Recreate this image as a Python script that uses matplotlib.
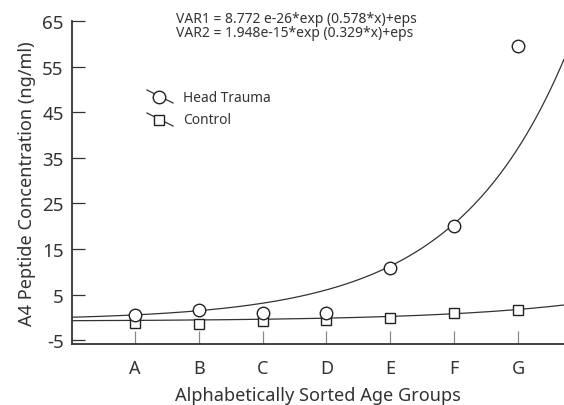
import numpy as np
import matplotlib
matplotlib.use("Agg")
import matplotlib.pyplot as plt

# data
groups = ["A", "B", "C", "D", "E", "F", "G"]
head_trauma = [0.5, 1.6, 0.9, 0.9, 10.8, 20.0, 59.6]
control = [-1.2, -1.4, -0.7, -0.5, 0.0, 0.9, 1.7]

# fitted exponential curves: y = amp * exp(rate * x) + offset
head_fit = (0.66, 0.578, -0.6)
control_fit = (0.11, 0.45, -0.8)

equations = [
    "VAR1 = 8.772 e-26*exp (0.578*x)+eps",
    "VAR2 = 1.948e-15*exp (0.329*x)+eps",
]

y_ticks = [-5, 5, 15, 25, 35, 45, 55, 65]

FONT = "Noto Sans"
TEXT_COLOR = "#333333"
LINE_COLOR = "#333333"

plt.rcParams["font.family"] = [FONT, "DejaVu Sans"]
plt.rcParams["axes.unicode_minus"] = False

W, H = 564, 406
fig = plt.figure(figsize=(W / 100, H / 100), dpi=100)
ax = fig.add_axes([72 / W, 1 - 345 / H, 492 / W, 323 / H])

x = np.arange(1, len(groups) + 1)
ax.set_xlim(0.016, 7.72)
ax.set_ylim(-5.8, 65)

xs = np.linspace(0.016, 7.72, 300)
for amp, rate, offset in (head_fit, control_fit):
    ax.plot(xs, amp * np.exp(rate * xs) + offset, color=LINE_COLOR, lw=0.9, zorder=2)

ax.plot(x, control, ls="none", marker="s", ms=6.8, mfc="white", mec="#222222",
        mew=1.0, zorder=3, clip_on=False)
ax.plot(x, head_trauma, ls="none", marker="o", ms=9, mfc="white", mec="#222222",
        mew=1.0, zorder=4, clip_on=False)

for side in ("top", "right"):
    ax.spines[side].set_visible(False)
for side in ("left", "bottom"):
    ax.spines[side].set_color("#333333")
    ax.spines[side].set_linewidth(1.3)

ax.set_xticks(x)
ax.set_xticklabels(groups)
ax.set_yticks(y_ticks)
ax.tick_params(axis="x", direction="in", length=9.5, width=0.9, color="#888888",
               pad=11, labelsize=13, labelcolor=TEXT_COLOR)
ax.tick_params(axis="y", direction="in", length=9.5, width=0.9, color="#333333",
               pad=6, labelsize=13.5, labelcolor=TEXT_COLOR)

ax.set_xlabel("Alphabetically Sorted Age Groups", fontsize=13.1, color=TEXT_COLOR, labelpad=6)
ax.set_ylabel("A4 Peptide Concentration (ng/ml)", fontsize=13.1, color=TEXT_COLOR, labelpad=4)

fig.text(176 / W, 1 - 12 / H, "\n".join(equations), fontsize=10, color=TEXT_COLOR,
         va="top", ha="left", linespacing=0.92)


# hand-drawn legend in figure pixel positions
def legend_entry(cy, marker, ms, label):
    fx = lambda px: px / W
    fy = lambda py: 1 - py / H
    fig.add_artist(plt.Line2D([fx(147), fx(173)], [fy(cy - 7), fy(cy + 6)],
                              color=LINE_COLOR, lw=0.9))
    fig.add_artist(plt.Line2D([fx(159)], [fy(cy)], marker=marker, ms=ms,
                              mfc="white", mec="#222222", mew=1.0, ls="none"))
    fig.text(fx(183), fy(cy), label, fontsize=9.9, color=TEXT_COLOR, va="center", ha="left")


legend_entry(98, "o", 9, "Head Trauma")
legend_entry(121, "s", 6.8, "Control")

fig.savefig("out.png", dpi=100)
